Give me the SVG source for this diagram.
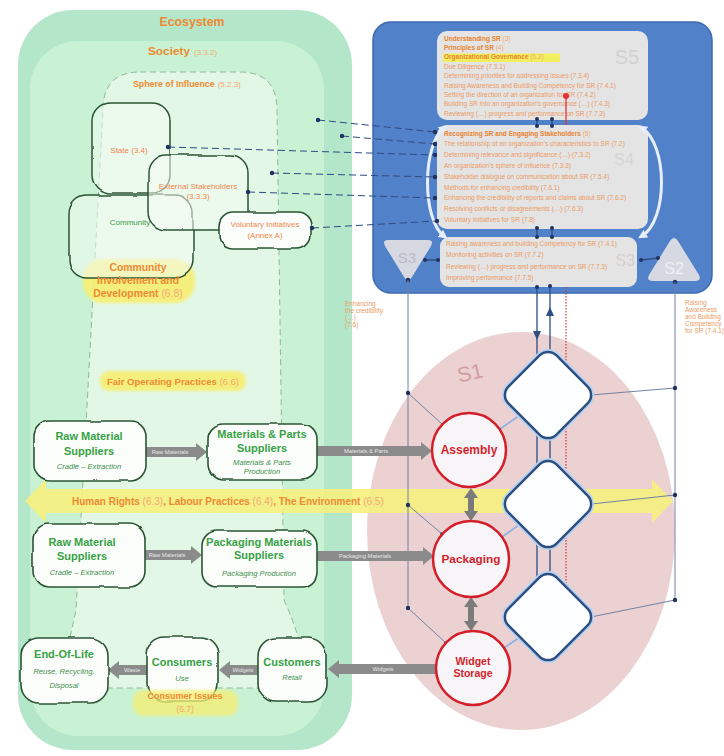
<svg xmlns="http://www.w3.org/2000/svg" width="724" height="756" viewBox="0 0 724 756">
<defs>
<style>
text{font-family:"Liberation Sans",Arial,sans-serif}
.or{fill:#ee8a32;font-weight:bold}
.orl{fill:#f2aa70;font-weight:normal}
.sm{font-size:6.5px;fill:#ec9a62}
.smb{font-size:6.5px;fill:#e8832e;font-weight:bold}
.gn{fill:#36a244;font-weight:bold;font-size:11px;text-anchor:middle}
.gi{fill:#3f8f4c;font-style:italic;font-size:7.6px;text-anchor:middle}
.node{fill:#fbfdfb;stroke:#2c5534;stroke-width:1.6}
.soft{fill:#f4fbf4;fill-opacity:0.55;stroke:#2c5534;stroke-width:1.5}
.ot{fill:#f0874a;font-size:8px;text-anchor:middle}
.ga{fill:#8b8b8b}
.gal{fill:#e8e8e8;font-size:5.8px;text-anchor:middle}
.dash{stroke:#2e4a82;stroke-width:1;stroke-dasharray:7 4;fill:none}
.dot{fill:#1f3260}
.vl{stroke:#7182a5;stroke-width:1;fill:none}
.lb{stroke:#8fb0e0;stroke-width:1.6;fill:none}
.bl{stroke:#2d4f80;stroke-width:1.3;fill:none}
.circ{fill:#f7f5f8;stroke:#d41f2a;stroke-width:2.5}
.ct{fill:#d41f2a;font-weight:bold;text-anchor:middle}
.dia{fill:#fdfeff;stroke:#2d4f80;stroke-width:2.5}
.glow{fill:none;stroke:#b9d2f2;stroke-width:6}
.sbox{fill:#efece7;fill-opacity:0.93}
.hl{fill:#f7ef72;opacity:0.9}
</style>
<filter id="rough" x="-5%" y="-5%" width="110%" height="110%">
<feTurbulence type="fractalNoise" baseFrequency="0.035" numOctaves="2" seed="5" result="n"/>
<feDisplacementMap in="SourceGraphic" in2="n" scale="3.5" xChannelSelector="R" yChannelSelector="G"/>
</filter>
<filter id="blur" x="-10%" y="-20%" width="120%" height="140%"><feGaussianBlur stdDeviation="1.8"/></filter>
<marker id="wh" viewBox="0 0 10 10" refX="5" refY="5" markerWidth="3" markerHeight="3" orient="auto-start-reverse"><path d="M0,0 L10,5 L0,10 z" fill="#e6eefa"/></marker>
</defs>
<rect width="724" height="756" fill="#ffffff"/>

<g id="ecosystem">
<rect x="18" y="10" width="334" height="740" rx="55" fill="#b4e7ca"/>
<text class="or" x="192" y="26" font-size="12.3" text-anchor="middle">Ecosystem</text>
</g>
<g id="society">
<rect x="30" y="41" width="294" height="695" rx="48" fill="#c8f2d3"/>
<text class="or" x="148" y="55" font-size="11.8">Society<tspan class="orl" font-size="8" dx="4">(3.3.2)</tspan></text>
</g>
<g id="sphere">
<path d="M140,72 L240,72 Q277,72 277,110 L284,600 Q302,640 302,660 Q302,688 272,688 L92,688 Q62,688 65,660 L76,610 L103,110 Q103,72 140,72 Z" fill="#e2f7e5" stroke="#8fb898" stroke-width="1" stroke-dasharray="6 4"/>
<text class="or" x="133" y="87" font-size="8.8">Sphere of Influence<tspan class="orl" font-size="8" dx="3">(5.2.3)</tspan></text>
</g>

<g id="s1">
<ellipse cx="521" cy="531" rx="154" ry="199" fill="#e9cccc" fill-opacity="0.9"/>
<text x="470" y="380" font-size="21" fill="#d49c9c" text-anchor="middle" transform="rotate(-12 470 372)">S1</text>
</g>

<g id="band">
<polygon points="25,501 46,479 46,489 652,489 652,479 673,501 652,523 652,513 46,513 46,523" fill="#f6f07c" fill-opacity="0.88"/>
<text class="or" x="72" y="504.5" font-size="10">Human Rights <tspan class="orl">(6.3)</tspan>, Labour Practices <tspan class="orl">(6.4)</tspan>, The Environment <tspan class="orl">(6.5)</tspan></text>
</g>

<g id="highlights">
<rect x="83" y="259" width="112" height="44" rx="20" class="hl" filter="url(#blur)"/>
<rect x="100" y="371" width="146" height="20" rx="9" class="hl" filter="url(#blur)"/>
</g>

<g id="state"><rect class="soft" filter="url(#rough)" x="92" y="103" width="78" height="90" rx="18"/><text class="ot" x="129" y="153">State (3.4)</text></g>
<g id="community"><rect class="soft" filter="url(#rough)" x="69" y="195" width="124" height="83" rx="18"/><text x="130" y="225" font-size="8" fill="#3f9a4a" text-anchor="middle">Community</text></g>
<g id="external"><rect class="soft" filter="url(#rough)" x="148" y="155" width="100" height="75" rx="18"/><text class="ot" x="198" y="189">External Stakeholders</text><text class="ot" x="198" y="199">(3.3.3)</text></g>
<g id="voluntary"><rect class="node" filter="url(#rough)" x="219" y="212" width="92" height="37" rx="14"/><text class="ot" x="265" y="227" font-size="7.6">Voluntary Initiatives</text><text class="ot" x="265" y="238" font-size="7.6">(Annex A)</text></g>

<g id="cid"><text class="or" x="138" y="271" font-size="10.4" text-anchor="middle">Community</text><text class="or" x="138" y="284" font-size="10.4" text-anchor="middle">Involvement and</text><text class="or" x="138" y="297" font-size="10.4" text-anchor="middle">Development <tspan class="orl">(6.8)</tspan></text></g>
<g id="fop"><text class="or" x="173" y="385" font-size="9.5" text-anchor="middle">Fair Operating Practices <tspan class="orl">(6.6)</tspan></text></g>

<g id="vsm">
<rect x="373" y="22" width="339" height="271" rx="18" fill="#5181c9" stroke="#3d6ab2" stroke-width="1.5"/>
<g id="s5box">
<rect class="sbox" x="437" y="31" width="211" height="89" rx="10"/>
<rect x="443" y="53.5" width="117" height="8.5" fill="#f3ee5e"/>
<text x="627" y="64" font-size="20" fill="#d2d0d0" text-anchor="middle">S5</text>
<text class="smb" x="444" y="40.5">Understanding SR <tspan class="orl">(3)</tspan></text>
<text class="smb" x="444" y="49.9">Principles of SR <tspan class="orl">(4)</tspan></text>
<text class="smb" x="444" y="59.3">Organizational Governance <tspan class="orl">(6.2)</tspan></text>
<text class="sm" x="444" y="68.7">Due Diligence (7.3.1)</text>
<text class="sm" x="444" y="78.1">Determining priorities for addressing issues (7.3.4)</text>
<text class="sm" x="444" y="87.5">Raising Awareness and Building Competency for SR (7.4.1)</text>
<text class="sm" x="444" y="96.9">Setting the direction of an organization for SR (7.4.2)</text>
<text class="sm" x="444" y="106.3">Building SR into an organization's governance (…) (7.4.3)</text>
<text class="sm" x="444" y="115.7">Reviewing (…) progress and performance on SR (7.7.3)</text>
</g>
<g id="s4box">
<rect class="sbox" x="437" y="125" width="211" height="104" rx="10"/>
<text x="624" y="165" font-size="16" fill="#d6d3d0" text-anchor="middle">S4</text>
<text class="smb" x="444" y="135.5">Recognizing SR and Engaging Stakeholders <tspan class="orl">(5)</tspan></text>
<text class="sm" x="444" y="146.3">The relationship of an organization's characteristics to SR (7.2)</text>
<text class="sm" x="444" y="157.1">Determining relevance and significance (…) (7.3.2)</text>
<text class="sm" x="444" y="167.9">An organization's sphere of influence (7.3.3)</text>
<text class="sm" x="444" y="178.7">Stakeholder dialogue on communication about SR (7.5.4)</text>
<text class="sm" x="444" y="189.5">Methods for enhancing credibility (7.6.1)</text>
<text class="sm" x="444" y="200.3">Enhancing the credibility of reports and claims about SR (7.6.2)</text>
<text class="sm" x="444" y="211.1">Resolving conflicts or disagreements (…) (7.6.3)</text>
<text class="sm" x="444" y="221.9">Voluntary initiatives for SR (7.8)</text>
</g>
<g id="s3box">
<rect class="sbox" x="440" y="237" width="197" height="50" rx="9"/>
<text x="625" y="266" font-size="16" fill="#d4d0cc" text-anchor="middle">S3</text>
<text class="sm" x="446" y="245.5">Raising awareness and building Competency for SR (7.4.1)</text>
<text class="sm" x="446" y="256.5">Monitoring activities on SR (7.7.2)</text>
<text class="sm" x="446" y="268.5">Reviewing (…) progress and performance on SR (7.7.3)</text>
<text class="sm" x="446" y="279.5">Improving performance (7.7.5)</text>
</g>
<g id="s3tri">
<path d="M388,240 L428,240 Q434,240 431,246 L412,277 Q408,283 404,277 L385,246 Q382,240 388,240 Z" fill="#d6d9e2"/>
<text x="407" y="263" font-size="15" fill="#b7bbc7" text-anchor="middle">S3</text>
</g>
<g id="s2tri">
<path d="M670,241 Q674,235 678,241 L699,275 Q702,281 695,281 L653,281 Q646,281 649,275 Z" fill="#d6d9e2"/>
<text x="674" y="274" font-size="16" fill="#eef0f5" text-anchor="middle">S2</text>
</g>
<path d="M444,128 C422,145 422,220 444,236" fill="none" stroke="#e6eefa" stroke-width="3" marker-start="url(#wh)" marker-end="url(#wh)"/>
<path d="M642,128 C668,145 668,220 642,236" fill="none" stroke="#e6eefa" stroke-width="3" marker-start="url(#wh)" marker-end="url(#wh)"/>
</g>

<g id="connectors">
<path class="dash" d="M318,120 L435,132"/>
<path class="dash" d="M342,136 L435,144"/>
<path class="dash" d="M168,147 L435,155"/>
<path class="dash" d="M272,173 L435,177"/>
<path class="dash" d="M248,192 L435,198"/>
<path class="dash" d="M312,228 L437,221"/>
<g class="dot">
<circle cx="318" cy="120" r="2.2"/><circle cx="342" cy="136" r="2.2"/><circle cx="168" cy="147" r="2.2"/><circle cx="272" cy="173" r="2.2"/><circle cx="248" cy="192" r="2.2"/><circle cx="312" cy="228" r="2.2"/>
<circle cx="435" cy="132" r="2.2"/><circle cx="435" cy="144" r="2.2"/><circle cx="435" cy="155" r="2.2"/><circle cx="435" cy="177" r="2.2"/><circle cx="435" cy="198" r="2.2"/><circle cx="437" cy="221" r="2.2"/>
</g>
<path class="bl" d="M537,119 V126 M552,119 V126 M537,228 V237 M552,228 V237"/>
<g class="dot">
<circle cx="537" cy="119" r="2"/><circle cx="552" cy="119" r="2"/><circle cx="537" cy="126" r="2"/><circle cx="552" cy="126" r="2"/>
<circle cx="537" cy="228" r="2"/><circle cx="552" cy="228" r="2"/><circle cx="537" cy="237" r="2"/><circle cx="552" cy="237" r="2"/>
</g>
<path d="M566,96 V125" stroke="#e0303a" stroke-width="1.3"/>
<circle cx="566" cy="96" r="3" fill="#e0303a"/>
<path class="bl" d="M425,260 H438 M641,260 L658,258"/>
<g class="dot"><circle cx="425" cy="260" r="2"/><circle cx="438" cy="260" r="2"/><circle cx="641" cy="260" r="2"/><circle cx="658" cy="258" r="2"/><circle cx="408" cy="280" r="2.2"/><circle cx="675" cy="282" r="2.2"/></g>

<path class="vl" d="M408,280 V608 M675,282 V600"/>
<path class="bl" d="M537,287 V358 M550,287 V352 M537,432 V467 M550,438 V461 M537,541 V580 M550,547 V574"/>
<polygon points="533,331 541,331 537,340" fill="#2d4f80"/>
<polygon points="546,316 554,316 550,307" fill="#2d4f80"/>
<g class="dot"><circle cx="537" cy="287" r="2"/><circle cx="550" cy="286" r="2"/></g>
<path d="M566,287 V365 M566,425 V474 M566,534 V587" stroke="#e0303a" stroke-width="1.2" stroke-dasharray="1.5 1.5"/>
<g fill="#e0303a"><circle cx="566" cy="365" r="2.8"/><circle cx="566" cy="474" r="2.8"/><circle cx="566" cy="587" r="2.8"/></g>

<path class="vl" d="M408,393 L443,425 M408,505 L442,534 M408,608 L446,643"/>
<path class="vl" d="M591,395 L675,388 M591,504 L675,495 M591,617 L675,600"/>
<g class="dot"><circle cx="408" cy="393" r="2.2"/><circle cx="408" cy="505" r="2.2"/><circle cx="408" cy="608" r="2.2"/><circle cx="675" cy="388" r="2.2"/><circle cx="675" cy="495" r="2.2"/><circle cx="675" cy="600" r="2.2"/><circle cx="443" cy="425" r="1.8"/><circle cx="442" cy="534" r="1.8"/><circle cx="446" cy="643" r="1.8"/></g>
<path class="lb" d="M520,415 L500,429 M520,524 L502,537 M520,637 L504,648"/>

<polygon points="471,488 478,498 474,498 474,511 478,511 471,521 464,511 468,511 468,498 464,498" fill="#7b7b7b"/>
<polygon points="471,597 478,607 474,607 474,621 478,621 471,631 464,621 468,621 468,607 464,607" fill="#7b7b7b"/>

<polygon class="ga" points="146,447 196,447 196,443 207,452 196,461 196,457 146,457"/>
<text class="gal" x="170" y="454">Raw Materials</text>
<polygon class="ga" points="317,446 421,446 421,442 432,451 421,460 421,456 317,456"/>
<text class="gal" x="366" y="453">Materials &amp; Parts</text>
<polygon class="ga" points="145,550 191,550 191,546 202,555 191,564 191,560 145,560"/>
<text class="gal" x="167" y="557">Raw Materials</text>
<polygon class="ga" points="317,551 423,551 423,547 434,556 423,565 423,561 317,561"/>
<text class="gal" x="365" y="558">Packaging Materials</text>
<polygon class="ga" points="436,664 339,664 339,660 328,669 339,678 339,674 436,674"/>
<text class="gal" x="383" y="671">Widgets</text>
<polygon class="ga" points="258,665 230,665 230,661 219,670 230,679 230,675 258,675"/>
<text class="gal" x="243" y="672">Widgets</text>
<polygon class="ga" points="147,665 119,665 119,661 108,670 119,679 119,675 147,675"/>
<text class="gal" x="132" y="672">Waste</text>
</g>

<g id="raw1"><rect class="node" filter="url(#rough)" x="34" y="421" width="112" height="60" rx="16"/><text class="gn" x="89" y="440">Raw Material</text><text class="gn" x="89" y="455">Suppliers</text><text class="gi" x="89" y="469">Cradle – Extraction</text></g>
<g id="mps"><rect class="node" filter="url(#rough)" x="208" y="424" width="109" height="56" rx="15"/><text class="gn" x="262" y="438">Materials &amp; Parts</text><text class="gn" x="262" y="452">Suppliers</text><text class="gi" x="262" y="465">Materials &amp; Parts</text><text class="gi" x="262" y="474">Production</text></g>
<g id="raw2"><rect class="node" filter="url(#rough)" x="33" y="524" width="112" height="63" rx="16"/><text class="gn" x="82" y="546">Raw Material</text><text class="gn" x="82" y="560">Suppliers</text><text class="gi" x="82" y="575">Cradle – Extraction</text></g>
<g id="pms"><rect class="node" filter="url(#rough)" x="202" y="531" width="115" height="56" rx="15"/><text class="gn" x="259" y="546">Packaging Materials</text><text class="gn" x="259" y="559">Suppliers</text><text class="gi" x="259" y="576">Packaging Production</text></g>
<g id="eol"><rect class="node" filter="url(#rough)" x="21" y="638" width="87" height="65" rx="18"/><text class="gn" x="64" y="658">End-Of-Life</text><text class="gi" x="64" y="674">Reuse, Recycling,</text><text class="gi" x="64" y="688">Disposal</text></g>
<g id="consumers"><rect class="node" filter="url(#rough)" x="147" y="637" width="71" height="64" rx="18"/><text class="gn" x="182" y="666">Consumers</text><text class="gi" x="182" y="681">Use</text></g>
<g id="customers"><rect class="node" filter="url(#rough)" x="258" y="638" width="68" height="64" rx="18"/><text class="gn" x="292" y="666">Customers</text><text class="gi" x="292" y="680">Retail</text></g>

<g id="ci">
<rect x="133" y="690" width="105" height="26" rx="10" fill="#f7ef72" opacity="0.75" filter="url(#blur)"/>
<text class="or" x="185" y="699" font-size="9" text-anchor="middle">Consumer Issues</text>
<text class="orl" x="185" y="712" font-size="8.5" text-anchor="middle">(6.7)</text>
</g>

<g id="d1"><rect class="glow" x="514" y="361" width="68" height="68" rx="12" transform="rotate(45 548 395)"/><rect class="dia" x="514" y="361" width="68" height="68" rx="12" transform="rotate(45 548 395)"/></g>
<g id="d2"><rect class="glow" x="514" y="470" width="68" height="68" rx="12" transform="rotate(45 548 504)"/><rect class="dia" x="514" y="470" width="68" height="68" rx="12" transform="rotate(45 548 504)"/></g>
<g id="d3"><rect class="glow" x="514" y="583" width="68" height="68" rx="12" transform="rotate(45 548 617)"/><rect class="dia" x="514" y="583" width="68" height="68" rx="12" transform="rotate(45 548 617)"/></g>

<g id="assembly"><circle class="circ" cx="469" cy="450" r="37"/><text class="ct" x="469" y="454" font-size="12">Assembly</text></g>
<g id="packaging"><circle class="circ" cx="471" cy="559" r="38"/><text class="ct" x="471" y="563" font-size="11.8">Packaging</text></g>
<g id="storage"><circle class="circ" cx="473" cy="668" r="37"/><text class="ct" x="473" y="665" font-size="10.5">Widget</text><text class="ct" x="473" y="677" font-size="10.5">Storage</text></g>

<g id="side-labels">
<text class="sm" font-size="6" x="345" y="306">Enhancing</text>
<text class="sm" font-size="6" x="345" y="313">the credibility</text>
<text class="sm" font-size="6" x="345" y="320">(…)</text>
<text class="sm" font-size="6" x="345" y="327">(7.6)</text>
<text class="sm" font-size="6" x="685" y="305">Raising</text>
<text class="sm" font-size="6" x="685" y="312">Awareness</text>
<text class="sm" font-size="6" x="685" y="319">and Building</text>
<text class="sm" font-size="6" x="685" y="326">Competency</text>
<text class="sm" font-size="6" x="685" y="333">for SR (7.4.1)</text>
</g>
</svg>
